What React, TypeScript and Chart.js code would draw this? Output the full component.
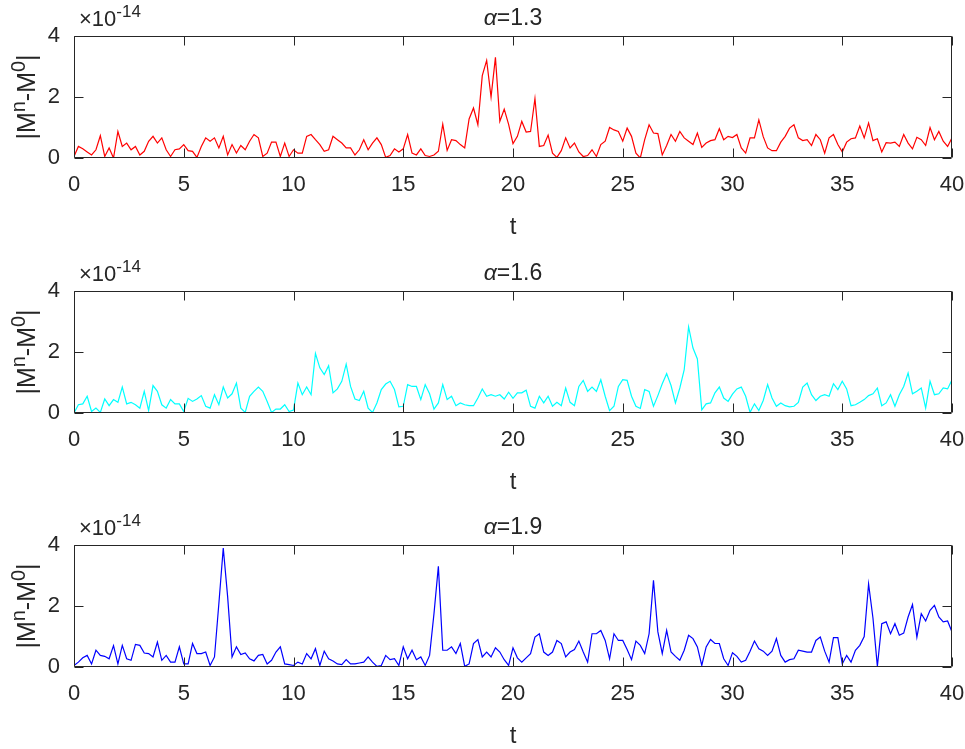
import React, { useEffect, useRef } from "react";
import { Chart, registerables } from "chart.js";

Chart.register(...registerables);

// ---------- data (values in units of 1e-14, sampled every 0.2 in t) ----------
const T_STEP = 0.2;
const X_TICKS = [0, 5, 10, 15, 20, 25, 30, 35, 40];
const Y_TICKS = [0, 2, 4];
const EXPONENT = "-14";
const ALPHAS = ["1.3", "1.6", "1.9"];
const COLORS = ["#ff0000", "#00ffff", "#0000ff"];

const ERR_A13 = [
  0.05, 0.38, 0.3, 0.2, 0.1, 0.27, 0.73, 0.05, 0.33, 0.0, 0.87, 0.38, 0.49, 0.27, 0.38, 0.1, 0.22, 0.55, 0.71, 0.49,
  0.66, 0.27, 0.05, 0.27, 0.3, 0.44, 0.24, 0.22, 0.02, 0.38, 0.66, 0.55, 0.66, 0.33, 0.71, 0.1, 0.44, 0.16, 0.41, 0.27,
  0.55, 0.77, 0.66, 0.05, 0.16, 0.52, 0.52, 0.05, 0.49, 0.05, 0.27,
  0.16, 0.16, 0.71, 0.77, 0.6, 0.44, 0.22, 0.27, 0.71, 0.6, 0.49, 0.33, 0.33, 0.1, 0.27, 0.6, 0.27, 0.49, 0.66, 0.44,
  0.02, 0.08, 0.3, 0.2, 0.3, 0.77, 0.16, 0.1, 0.3, 0.08, 0.05, 0.1, 0.22, 1.11, 0.25, 0.6, 0.57, 0.44, 0.33, 1.28,
  1.64, 1.09, 2.7, 3.2, 2.0, 3.3, 1.2, 1.6, 1.1, 0.47,
  0.71, 1.2, 0.85, 0.87, 1.95, 0.38, 0.41, 0.75, 0.16, 0.02, 0.24, 0.66, 0.33, 0.49, 0.2, 0.05, 0.08, 0.27, 0.05, 0.44,
  0.55, 1.0, 0.92, 0.87, 0.55, 0.98, 0.71, 0.16, 0.0, 0.6, 1.09, 0.82, 0.8, 0.1, 0.41, 0.77, 0.55, 0.87, 0.66, 0.55,
  0.44, 0.82, 0.35, 0.49, 0.57, 0.6, 0.96, 0.6, 0.71, 0.67,
  0.77, 0.33, 0.16, 0.66, 0.66, 1.25, 0.7, 0.33, 0.24, 0.24, 0.52, 0.71, 0.98, 1.09, 0.66, 0.57, 0.6, 0.41, 0.77, 0.6,
  0.16, 0.66, 0.77, 0.44, 0.2, 0.52, 0.63, 0.66, 1.05, 0.66, 1.15, 0.57, 0.63, 0.2, 0.5, 0.49, 0.52, 0.38, 0.77, 0.49,
  0.3, 0.68, 0.6, 0.41, 1.0, 0.6, 0.87, 0.55, 0.38, 0.66,
];

const ERR_A16 = [
  0.0, 0.27, 0.3, 0.55, 0.05, 0.16, 0.02, 0.46, 0.24, 0.44, 0.35, 0.85, 0.3, 0.35, 0.27, 0.16, 0.71, 0.08, 0.9, 0.71,
  0.27, 0.16, 0.44, 0.3, 0.3, 0.05, 0.48, 0.38, 0.46, 0.57, 0.22, 0.16, 0.6, 0.27, 0.85, 0.49, 0.63, 0.98, 0.16, 0.02,
  0.55, 0.71, 0.85, 0.71, 0.38, 0.02, 0.13, 0.13, 0.27, 0.05, 0.1,
  0.98, 0.6, 0.85, 0.6, 1.95, 1.48, 1.26, 1.55, 0.66, 0.79, 1.04, 1.6, 0.87, 0.46, 0.41, 0.71, 0.16, 0.02, 0.33, 0.77,
  0.95, 1.04, 0.77, 0.2, 0.22, 0.93, 0.87, 0.87, 0.44, 0.93, 0.63, 0.13, 0.33, 0.93, 0.44, 0.55, 0.24, 0.33, 0.27, 0.24,
  0.24, 0.49, 0.79, 0.55, 0.6, 0.55, 0.6, 0.46, 0.68, 0.48,
  0.66, 0.66, 0.75, 0.22, 0.16, 0.55, 0.33, 0.55, 0.22, 0.35, 0.24, 0.82, 0.35, 0.24, 0.87, 1.07, 0.71, 0.85, 0.71, 1.09,
  0.55, 0.08, 0.22, 0.87, 1.09, 1.07, 0.55, 0.22, 0.15, 0.77, 0.71, 0.22, 0.57, 0.96, 1.29, 0.9, 0.33, 0.82, 1.42, 2.82,
  2.13, 1.77, 0.1, 0.3, 0.33, 0.66, 0.85, 0.49, 0.38, 0.62,
  0.79, 0.85, 0.55, 0.02, 0.3, 0.08, 0.41, 0.93, 0.49, 0.22, 0.33, 0.24, 0.2, 0.22, 0.35, 0.85, 0.98, 0.6, 0.41, 0.55,
  0.6, 0.55, 0.96, 0.77, 1.04, 0.79, 0.24, 0.27, 0.35, 0.44, 0.57, 0.63, 0.82, 0.24, 0.33, 0.6, 0.22, 0.6, 0.87, 1.31,
  0.63, 0.71, 0.82, 0.16, 1.04, 0.6, 0.63, 0.82, 0.79, 1.09,
];

const ERR_A19 = [
  0.05, 0.16, 0.3, 0.38, 0.1, 0.55, 0.38, 0.35, 0.27, 0.7, 0.1, 0.71, 0.27, 0.22, 0.74, 0.71, 0.46, 0.44, 0.33, 0.82,
  0.22, 0.38, 0.16, 0.16, 0.66, 0.1, 0.1, 0.77, 0.44, 0.44, 0.49, 0.05, 0.33, 2.08, 3.9, 2.3, 0.33, 0.66, 0.41, 0.46,
  0.27, 0.2, 0.38, 0.41, 0.1, 0.22, 0.49, 0.66, 0.1, 0.08, 0.05,
  0.16, 0.1, 0.44, 0.27, 0.6, 0.05, 0.52, 0.27, 0.2, 0.1, 0.08, 0.24, 0.1, 0.1, 0.13, 0.16, 0.33, 0.16, 0.02, 0.05,
  0.38, 0.24, 0.27, 0.05, 0.66, 0.27, 0.55, 0.24, 0.33, 0.05, 0.38, 1.75, 3.3, 0.55, 0.55, 0.66, 0.44, 0.77, 0.02, 0.1,
  0.77, 0.9, 0.33, 0.49, 0.33, 0.63, 0.49, 0.24, 0.05, 0.63,
  0.3, 0.16, 0.3, 0.44, 0.98, 1.09, 0.49, 0.38, 0.49, 0.87, 0.77, 0.33, 0.49, 0.57, 0.85, 0.49, 0.16, 1.09, 1.09, 1.2,
  0.87, 0.27, 1.09, 0.87, 0.87, 0.57, 0.24, 0.85, 0.71, 0.44, 1.09, 2.84, 1.15, 0.44, 1.2, 0.49, 0.35, 0.22, 0.55, 1.04,
  0.93, 0.66, 0.05, 0.66, 0.9, 0.77, 0.77, 0.27, 0.05, 0.47,
  0.35, 0.16, 0.22, 0.52, 0.85, 0.6, 0.52, 0.38, 0.52, 0.93, 0.38, 0.16, 0.24, 0.27, 0.55, 0.52, 0.49, 0.49, 0.87, 0.98,
  0.52, 0.16, 0.96, 0.96, 0.1, 0.38, 0.16, 0.55, 0.71, 1.0, 2.72, 1.6, 0.02, 1.42, 1.48, 1.09, 1.42, 1.04, 1.11, 1.64,
  2.05, 0.98, 1.75, 1.51, 1.86, 2.02, 1.64, 1.48, 1.51, 1.15,
];

const SERIES = [ERR_A13, ERR_A16, ERR_A19];

// ---------- style / layout ----------
const FONT = '"Liberation Sans", Arial, Helvetica, sans-serif';
const AX = "#262626";
const PLOT_LEFT = 74;
const PLOT_RIGHT_PAD = 13;
const PAD_TOP = 36;
const PANELS = [
  { top: 0, height: 250 },
  { top: 255, height: 250 },
  { top: 509, height: 240 },
];
const PLOT_H = 122;
const TICK_FONT = 22;

type Part = { t: string; sup?: boolean; it?: boolean };

function drawRich(
  ctx: CanvasRenderingContext2D,
  parts: Part[],
  x: number,
  y: number,
  size: number,
  align: string,
  supRatio = 0.78
) {
  const supSize = Math.round(size * supRatio);
  const fontFor = (p: Part) => `${p.it ? "italic " : ""}${p.sup ? supSize : size}px ${FONT}`;
  let w = 0;
  for (const p of parts) {
    ctx.font = fontFor(p);
    w += ctx.measureText(p.t).width;
  }
  let cx = align === "center" ? x - w / 2 : x;
  ctx.textAlign = "left";
  ctx.textBaseline = "alphabetic";
  for (const p of parts) {
    ctx.font = fontFor(p);
    ctx.fillText(p.t, cx, p.sup ? y - size * 0.42 : y);
    cx += ctx.measureText(p.t).width;
  }
}

function makeDecor(alpha: string) {
  return {
    id: "matlabDecor",
    afterDraw(chart: any) {
      const { ctx, chartArea: a, scales } = chart;
      const xs = scales.x;
      const ys = scales.y;
      ctx.save();
      ctx.strokeStyle = AX;
      ctx.lineWidth = 1;
      const L = Math.round(a.left) + 0.5;
      const R = Math.round(a.right) - 0.5;
      const T = Math.round(a.top) + 0.5;
      const B = Math.round(a.bottom) - 0.5;
      ctx.beginPath();
      ctx.rect(L, T, R - L, B - T);
      const tl = 9;
      for (const v of X_TICKS) {
        const px = Math.round(xs.getPixelForValue(v)) + 0.5;
        ctx.moveTo(px, B);
        ctx.lineTo(px, B - tl);
        ctx.moveTo(px, T);
        ctx.lineTo(px, T + tl);
      }
      for (const v of Y_TICKS) {
        const py = Math.round(ys.getPixelForValue(v)) + 0.5;
        ctx.moveTo(L, py);
        ctx.lineTo(L + tl, py);
        ctx.moveTo(R, py);
        ctx.lineTo(R - tl, py);
      }
      ctx.stroke();

      ctx.fillStyle = AX;
      // title
      drawRich(ctx, [{ t: "α", it: true }, { t: "=" + alpha }], (a.left + a.right) / 2, a.top - 11, 23, "center");
      // exponent
      drawRich(ctx, [{ t: "×10" }, { t: EXPONENT, sup: true }], a.left + 5, a.top - 10, 22, "left");
      // x label
      drawRich(ctx, [{ t: "t" }], (a.left + a.right) / 2, a.bottom + 76, 24, "center");
      // y label
      ctx.translate(35, (a.top + a.bottom) / 2);
      ctx.rotate(-Math.PI / 2);
      drawRich(
        ctx,
        [{ t: "|M" }, { t: "n", sup: true }, { t: "-M" }, { t: "0", sup: true }, { t: "|" }],
        0,
        0,
        25,
        "center"
      );
      ctx.restore();
    },
  };
}

function Panel({ idx }: { idx: number }) {
  const ref = useRef<HTMLCanvasElement | null>(null);
  const p = PANELS[idx];
  useEffect(() => {
    if (!ref.current) return;
    const values = SERIES[idx];
    const bottomSpace = p.height - PAD_TOP - PLOT_H;
    const chart = new Chart(ref.current, {
      type: "line",
      data: {
        datasets: [
          {
            data: values.map((v, i) => ({ x: i * T_STEP, y: v })),
            borderColor: COLORS[idx],
            borderWidth: 1.2,
            pointRadius: 0,
            fill: false,
            tension: 0,
          },
        ],
      },
      options: {
        animation: false,
        responsive: false,
        devicePixelRatio: 1,
        layout: { padding: { top: PAD_TOP, right: PLOT_RIGHT_PAD, left: 0, bottom: 0 } },
        plugins: { legend: { display: false }, tooltip: { enabled: false }, title: { display: false } },
        scales: {
          x: {
            type: "linear",
            min: 0,
            max: 40,
            afterBuildTicks: (s: any) => {
              s.ticks = X_TICKS.map((v) => ({ value: v }));
            },
            grid: { display: false, drawTicks: false },
            border: { display: false },
            ticks: { padding: 14, color: AX, font: { family: FONT, size: TICK_FONT }, maxRotation: 0, autoSkip: false },
            afterFit: (s: any) => {
              s.height = bottomSpace;
              s.paddingLeft = 0;
              s.paddingRight = 0;
            },
          },
          y: {
            type: "linear",
            min: 0,
            max: 4,
            afterBuildTicks: (s: any) => {
              s.ticks = Y_TICKS.map((v) => ({ value: v }));
            },
            grid: { display: false, drawTicks: false },
            border: { display: false },
            ticks: { padding: 14, color: AX, font: { family: FONT, size: TICK_FONT } },
            afterFit: (s: any) => {
              s.width = PLOT_LEFT;
              s.paddingTop = 0;
              s.paddingBottom = 0;
            },
          },
        },
      } as any,
      plugins: [makeDecor(ALPHAS[idx])],
    });
    return () => chart.destroy();
  }, [idx]);
  return (
    <canvas
      ref={ref}
      width={965}
      height={p.height}
      style={{ position: "absolute", left: 0, top: p.top, width: 965, height: p.height }}
    />
  );
}

export default function App() {
  return (
    <div style={{ position: "fixed", left: 0, top: 0, width: 965, height: 749, background: "#fff", overflow: "hidden" }}>
      <Panel idx={0} />
      <Panel idx={1} />
      <Panel idx={2} />
    </div>
  );
}
